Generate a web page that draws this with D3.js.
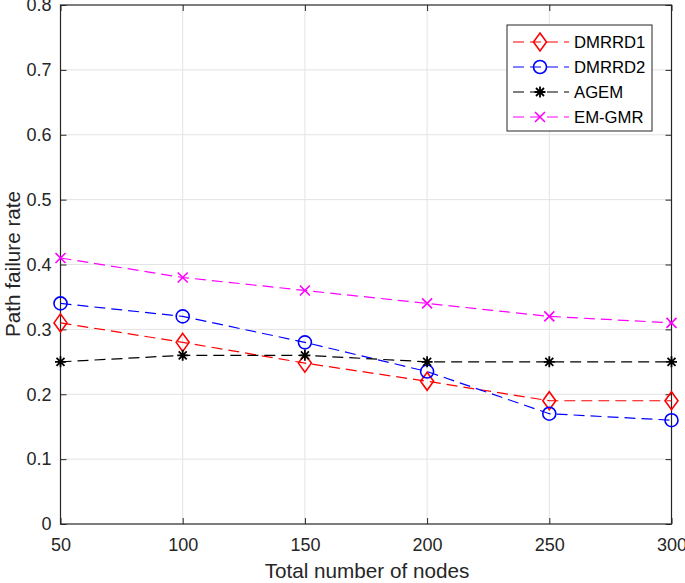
<!DOCTYPE html>
<html>
<head>
<meta charset="utf-8">
<script src="https://cdn.jsdelivr.net/npm/d3@7"></script>
<style>
  body { margin: 0; background: #fff; }
  text { font-family: "Liberation Sans", Arial, sans-serif; }
</style>
</head>
<body>
<svg id="chart" width="685" height="583"></svg>
<script>
// chart data
let nodes = [50, 100, 150, 200, 250, 300];
let dmrrd1 = [0.31, 0.28, 0.248, 0.22, 0.19, 0.19];
let dmrrd2 = [0.34, 0.32, 0.28, 0.235, 0.17, 0.16];
let agem = [0.25, 0.26, 0.26, 0.25, 0.25, 0.25];
let emgmr = [0.41, 0.38, 0.36, 0.34, 0.32, 0.31];
let seriesNames = ["DMRRD1", "DMRRD2", "AGEM", "EM-GMR"];
let xTicks = [50, 100, 150, 200, 250, 300];
let yTicks = [0, 0.1, 0.2, 0.3, 0.4, 0.5, 0.6, 0.7, 0.8];

let series = [
  {name: seriesNames[0], values: dmrrd1, color: "#ff0000", marker: "diamond"},
  {name: seriesNames[1], values: dmrrd2, color: "#0000ff", marker: "circle"},
  {name: seriesNames[2], values: agem, color: "#000000", marker: "star"},
  {name: seriesNames[3], values: emgmr, color: "#ff00ff", marker: "cross"}
];

let pLeft = 60.5, pRight = 671.5, pTop = 5, pBottom = 524;
let svg = d3.select("#chart");
let x = d3.scaleLinear().domain([50, 300]).range([pLeft, pRight]);
let y = d3.scaleLinear().domain([0, 0.8]).range([pBottom, pTop]);

//grid
let grid = svg.append("g").attr("stroke", "#e3e3e3").attr("stroke-width", 1);
grid.selectAll(".gx").data(xTicks.slice(1, -1)).enter().append("line")
  .attr("x1", d => x(d)).attr("x2", d => x(d)).attr("y1", pTop).attr("y2", pBottom);
grid.selectAll(".gy").data(yTicks.slice(1, -1)).enter().append("line")
  .attr("y1", d => y(d)).attr("y2", d => y(d)).attr("x1", pLeft).attr("x2", pRight);

//axes, ticks inward like matlab
function styleAxis(g){
  g.select(".domain").remove();
  g.selectAll(".tick line").attr("stroke", "#262626").attr("stroke-width", 1);
  g.selectAll(".tick text").attr("fill", "#262626").attr("font-size", "18px")
    .attr("font-family", "Liberation Sans, Arial, sans-serif");
}
svg.append("g").attr("transform", "translate(0," + pBottom + ")")
  .call(d3.axisBottom(x).tickValues(xTicks).tickSizeInner(-6).tickSizeOuter(0).tickPadding(14))
  .call(styleAxis);
svg.append("g").attr("transform", "translate(0," + pTop + ")")
  .call(d3.axisTop(x).tickValues(xTicks).tickSizeInner(-6).tickSizeOuter(0).tickFormat(""))
  .call(styleAxis);
svg.append("g").attr("transform", "translate(" + pLeft + ",0)")
  .call(d3.axisLeft(y).tickValues(yTicks).tickSizeInner(-6).tickSizeOuter(0).tickPadding(9)
    .tickFormat(d => d == 0 ? "0" : d3.format(".1f")(d)))
  .call(styleAxis);
svg.append("g").attr("transform", "translate(" + pRight + ",0)")
  .call(d3.axisRight(y).tickValues(yTicks).tickSizeInner(-6).tickSizeOuter(0).tickFormat(""))
  .call(styleAxis);

svg.append("rect").attr("x", pLeft).attr("y", pTop)
  .attr("width", pRight - pLeft).attr("height", pBottom - pTop)
  .attr("fill", "none").attr("stroke", "#262626").attr("stroke-width", 1.2);

//axis labels
svg.append("text").attr("x", (pLeft + pRight) / 2 + 1).attr("y", 578)
  .attr("text-anchor", "middle").attr("font-size", "20.7px").attr("fill", "#262626")
  .text("Total number of nodes");
svg.append("text").attr("transform", "translate(20,264) rotate(-90)")
  .attr("text-anchor", "middle").attr("font-size", "20.7px").attr("fill", "#262626")
  .text("Path failure rate");

//markers
function drawMarker(g, type, color){
  if(type == "diamond"){
    g.append("path").attr("d", "M0,-9L6.5,0L0,9L-6.5,0Z")
      .attr("fill", "none").attr("stroke", color).attr("stroke-width", 1.6);
  } else if(type == "circle"){
    g.append("circle").attr("r", 6.5)
      .attr("fill", "none").attr("stroke", color).attr("stroke-width", 1.6);
  } else if(type == "star"){
    let s = 5.5;
    g.append("path")
      .attr("d", "M0,-" + s + "L0," + s + "M-" + s + ",0L" + s + ",0" +
        "M-4,-4L4,4M-4,4L4,-4")
      .attr("stroke", color).attr("stroke-width", 1.8);
  } else {
    g.append("path").attr("d", "M-5,-5L5,5M-5,5L5,-5")
      .attr("stroke", color).attr("stroke-width", 1.6);
  }
}

let line = d3.line().x((d, i) => x(nodes[i])).y(d => y(d));
let plot = svg.append("g");
for(let s of series){
  plot.append("path").datum(s.values).attr("d", line)
    .attr("fill", "none").attr("stroke", s.color).attr("stroke-width", 1.2)
    .attr("stroke-dasharray", "11,6");
  s.values.forEach(function(v, i){
    let g = plot.append("g").attr("transform", "translate(" + x(nodes[i]) + "," + y(v) + ")");
    drawMarker(g, s.marker, s.color);
  });
}

//legend
let lg = svg.append("g");
lg.append("rect").attr("x", 507).attr("y", 25).attr("width", 145).attr("height", 106)
  .attr("fill", "#fff").attr("stroke", "#262626").attr("stroke-width", 1);
series.forEach(function(s, i){
  let ly = 42 + i * 25;
  lg.append("line").attr("x1", 513).attr("x2", 569).attr("y1", ly).attr("y2", ly)
    .attr("stroke", s.color).attr("stroke-width", 1.2).attr("stroke-dasharray", "11,6");
  let g = lg.append("g").attr("transform", "translate(540," + ly + ")");
  drawMarker(g, s.marker, s.color);
  lg.append("text").attr("x", 574).attr("y", ly + 6).attr("font-size", "16.7px")
    .attr("fill", "#000").text(s.name);
});
</script>
</body>
</html>
